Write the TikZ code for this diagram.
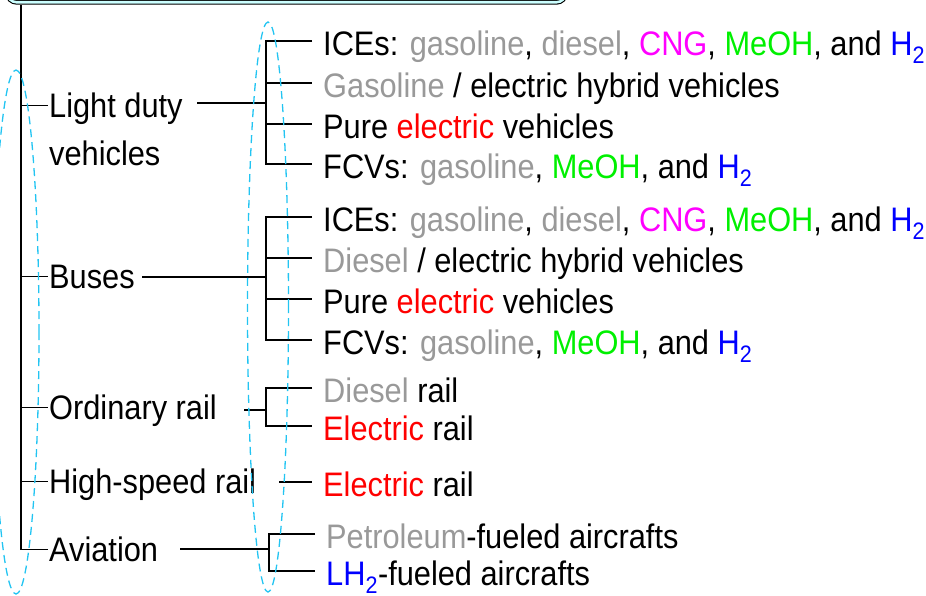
\documentclass[tikz,border=0pt]{standalone}
\usepackage{fontspec}
\setmainfont{Liberation Sans}[FakeStretch=0.905]
\usepackage{xcolor}
\usetikzlibrary{positioning}
\definecolor{FuelGray}{HTML}{999999}
\definecolor{FuelRed}{HTML}{FF0000}
\definecolor{FuelPink}{HTML}{FF00FF}
\definecolor{FuelGreen}{HTML}{00F000}
\definecolor{FuelBlue}{HTML}{0000FF}
\definecolor{RingCyan}{HTML}{22C4F2}
\definecolor{HeadCyan}{HTML}{CCFFFF}
\newcommand{\lblfont}{\fontsize{34pt}{40pt}\selectfont}
\newcommand{\Htwo}{\textcolor{FuelBlue}{H\textsubscript{2}}}
\tikzset{
  grouplabel/.style={anchor=base west,inner xsep=1pt,inner ysep=0pt,text height=23pt,text depth=0pt,font=\lblfont},
  leaflabel/.style={anchor=base west,inner xsep=11pt,inner ysep=0pt,text height=28pt,text depth=0pt,font=\lblfont},
  trunkline/.style={line width=2pt,draw=black},
  stemline/.style={line width=1.3pt,draw=black},
  twigline/.style={line width=1.8pt,draw=black},
  fuzzring/.style={draw=RingCyan,line width=1.3pt,dash pattern=on 8pt off 5pt},
  headbox/.style={draw=black,line width=1.1pt,double=HeadCyan,double distance=2.6pt,fill=HeadCyan,rounded corners=9pt,minimum width=558pt,minimum height=40pt}
}
\begin{document}
\begin{tikzpicture}[x=1pt,y=-1pt]
\useasboundingbox (0,0) rectangle (926,595);
\node[headbox,anchor=south west] (head) at (7,2.8) {};
\coordinate (trunkTop) at (21,5);
% transport modes
\node[grouplabel] (ldv) at (48,117) {Light duty};
\node[grouplabel] (ldvb) at (48,165) {vehicles};
\node[grouplabel] (bus) at (48,288) {Buses};
\node[grouplabel] (orail) at (48,419) {Ordinary rail};
\node[grouplabel] (hsr) at (48,493) {High-speed rail};
\node[grouplabel] (avi) at (48,561) {Aviation};
\draw[trunkline] (trunkTop) -- (trunkTop |- avi.west);
\foreach \g in {ldv,bus,orail,hsr,avi}
  \draw[stemline] (trunkTop |- \g.west) -- (\g.west);
% options per mode
\node[leaflabel] (ldv1) at (312,55) {ICEs: \textcolor{FuelGray}{gasoline}, \textcolor{FuelGray}{diesel}, \textcolor{FuelPink}{CNG}, \textcolor{FuelGreen}{MeOH}, and \Htwo};
\node[leaflabel] (ldv2) at (312,97) {\textcolor{FuelGray}{Gasoline} / electric hybrid vehicles};
\node[leaflabel] (ldv3) at (312,138) {Pure \textcolor{FuelRed}{electric} vehicles};
\node[leaflabel] (ldv4) at (312,178) {FCVs: \textcolor{FuelGray}{gasoline}, \textcolor{FuelGreen}{MeOH}, and \Htwo};
\node[leaflabel] (bus1) at (312,231) {ICEs: \textcolor{FuelGray}{gasoline}, \textcolor{FuelGray}{diesel}, \textcolor{FuelPink}{CNG}, \textcolor{FuelGreen}{MeOH}, and \Htwo};
\node[leaflabel] (bus2) at (312,272) {\textcolor{FuelGray}{Diesel} / electric hybrid vehicles};
\node[leaflabel] (bus3) at (312,313) {Pure \textcolor{FuelRed}{electric} vehicles};
\node[leaflabel] (bus4) at (312,354) {FCVs: \textcolor{FuelGray}{gasoline}, \textcolor{FuelGreen}{MeOH}, and \Htwo};
\node[leaflabel] (orail1) at (312,402) {\textcolor{FuelGray}{Diesel} rail};
\node[leaflabel] (orail2) at (312,440) {\textcolor{FuelRed}{Electric} rail};
\node[leaflabel] (hsr1) at (312,496) {\textcolor{FuelRed}{Electric} rail};
\node[leaflabel] (avi1) at (315,548) {\textcolor{FuelGray}{Petroleum}-fueled aircrafts};
\node[leaflabel] (avi2) at (315,585) {\textcolor{FuelBlue}{LH\textsubscript{2}}-fueled aircrafts};
\coordinate (ldvStem) at (197,103);
\coordinate (ldvFork) at (266,103);
\coordinate (busStem) at (142,277);
\coordinate (busFork) at (266,277);
\coordinate (orailStem) at (244,410);
\coordinate (orailFork) at (266,410);
\coordinate (hsrStem) at (279,482);
\coordinate (aviStem) at (180,549);
\coordinate (aviFork) at (269,549);
\draw[stemline] (ldvStem) -- (ldvFork);
\draw[twigline] (ldv1.west) -| (ldvFork) |- (ldv4.west);
\foreach \i in {2,3}
  \draw[twigline] (ldvFork |- ldv\i.west) -- (ldv\i.west);
\draw[stemline] (busStem) -- (busFork);
\draw[twigline] (bus1.west) -| (busFork) |- (bus4.west);
\foreach \i in {2,3}
  \draw[twigline] (busFork |- bus\i.west) -- (bus\i.west);
\draw[stemline] (orailStem) -- (orailFork);
\draw[twigline] (orail1.west) -| (orailFork) |- (orail2.west);
\draw[stemline] (hsrStem |- hsr1.west) -- (hsr1.west);
\draw[stemline] (aviStem) -- (aviFork);
\draw[twigline] (avi1.west) -| (aviFork) |- (avi2.west);
% dashed groupings
\draw[fuzzring] (16,332) ellipse [x radius=23pt,y radius=262pt];
\draw[fuzzring] (268,307) ellipse [x radius=20.5pt,y radius=285pt];
\end{tikzpicture}
\end{document}
